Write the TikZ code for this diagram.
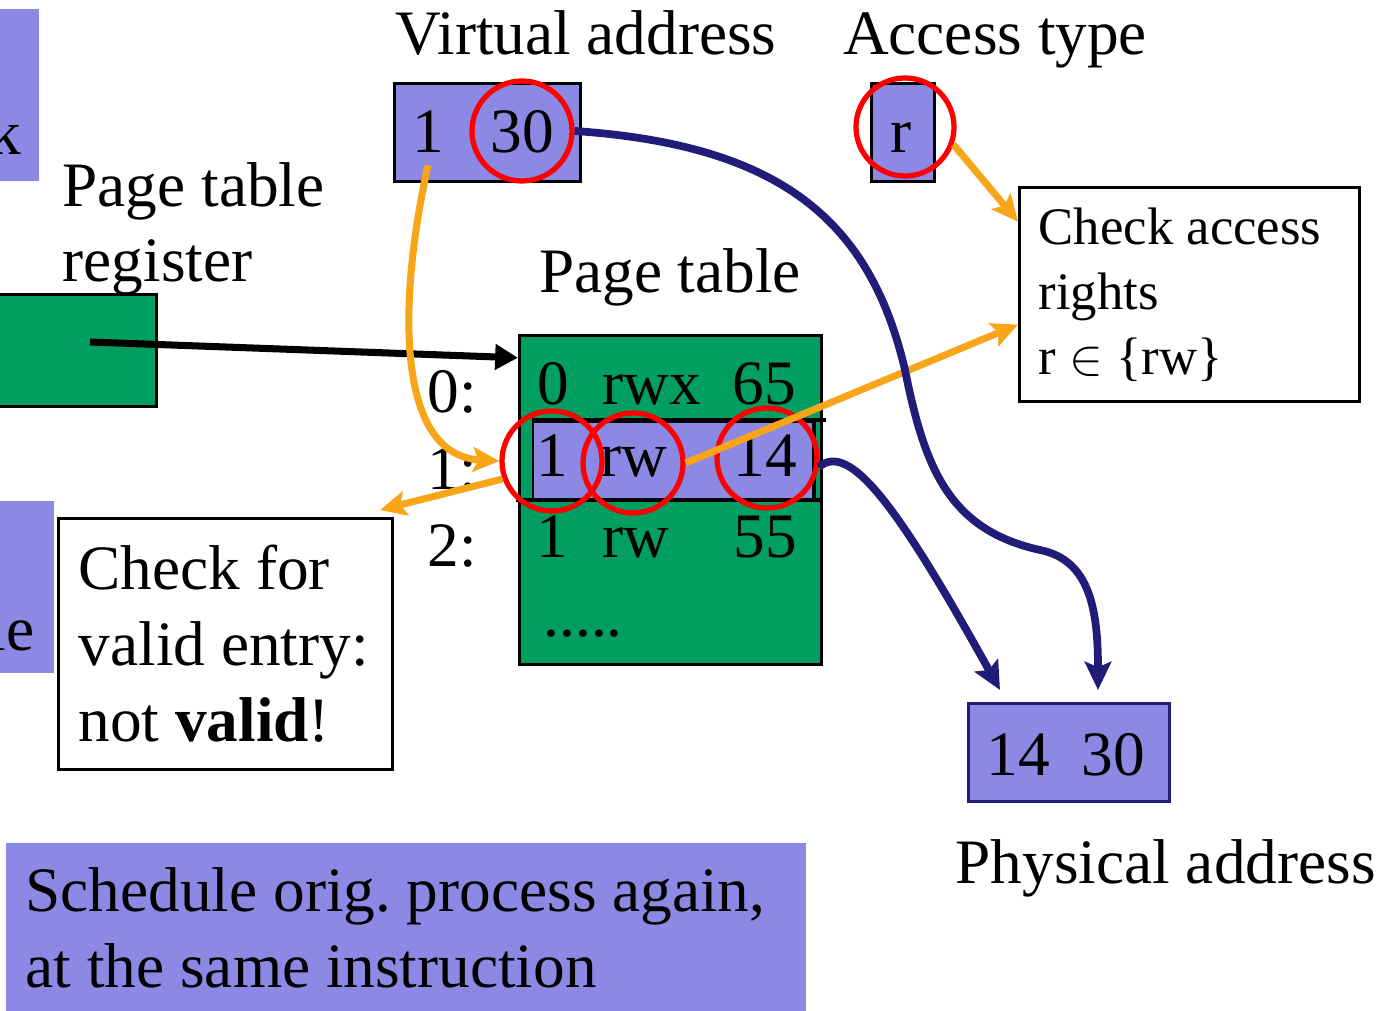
\documentclass[tikz,border=0pt]{standalone}
\usepackage{fontspec}
\setmainfont{Liberation Serif}
\usetikzlibrary{arrows.meta,positioning}
\definecolor{vpurple}{RGB}{139,137,227}
\definecolor{ptgreen}{RGB}{0,158,96}
\definecolor{aorange}{RGB}{249,165,26}
\definecolor{navy}{RGB}{32,28,120}
\frenchspacing

\begin{document}
\begin{tikzpicture}[
    font=\fontsize{18}{21.6}\selectfont,
    pbox/.style={rectangle, draw, fill=vpurple, inner sep=0pt, line width=0.8pt},
    gbox/.style={rectangle, draw, fill=ptgreen, inner sep=0pt, line width=0.8pt},
    infobox/.style={rectangle, draw, fill=white, inner sep=0pt, line width=0.8pt},
    infotext/.style={anchor=west, align=left, inner sep=0pt},
    hit/.style={circle, draw=red, line width=1.5pt, minimum size=1cm, inner sep=0pt},
    oarrow/.style={-{Stealth[length=7.5pt,width=7pt,inset=1.5pt]}, aorange, line width=2pt},
    narrow/.style={-{Stealth[length=8pt,width=7.5pt,inset=1.5pt]}, navy, line width=2.2pt},
    parrow/.style={-{Triangle[length=6.5pt,width=7pt]}, line width=2pt}
]
\useasboundingbox (0,0) rectangle (13.89,-10.11);
\clip (0,0) rectangle (13.89,-10.11);

% Boxes cut off at the left edge
\node[pbox, draw=none, minimum width=1.0cm, minimum height=1.72cm, anchor=north east] (kbox) at (0.40,-0.08) {};
\node[anchor=base east, inner sep=0pt] (ktxt) at (0.22,-1.55) {k};
\node[pbox, draw=none, minimum width=1.0cm, minimum height=1.72cm, anchor=north east] (lebox) at (0.55,-5.00) {};
\node[anchor=base east, inner sep=0pt] (letxt) at (0.35,-6.50) {le};

% Virtual address
\node[anchor=base] (valbl) at (5.86,-0.55) {Virtual address};
\node[pbox, minimum width=1.86cm, minimum height=0.98cm, anchor=north west] (vaddr) at (3.93,-0.82) {};
\node[anchor=base] (v1) at (4.28,-1.53) {1};
\node[anchor=base] (v30) at (5.22,-1.53) {30};

% Access type
\node[anchor=base] (atlbl) at (9.95,-0.55) {Access type};
\node[pbox, minimum width=0.63cm, minimum height=0.98cm, anchor=north west] (abox) at (8.70,-0.82) {};
\node[anchor=base] (ar) at (9.01,-1.53) {r};

% Check access rights
\node[infobox, minimum width=3.40cm, minimum height=2.14cm, anchor=north west] (acc) at (10.18,-1.86) {};
\node[infotext, font=\fontsize{15}{18.5}\selectfont] (acctxt) at ([xshift=0.2cm]acc.west)
     {Check access\\rights\\r $\in$ \{rw\}};

% Page table register
\node[anchor=base west, align=left, inner sep=0pt] (reglbl) at (0.62,-2.82) {Page table\\register};
\node[gbox, minimum width=2.0cm, minimum height=1.12cm, anchor=north east] (reg) at (1.58,-2.93) {};
\coordinate (regptr) at (0.90,-3.42);

% Page table
\node[anchor=base] (ptlbl) at (6.70,-2.93) {Page table};
\node[gbox, minimum width=3.02cm, minimum height=3.29cm, anchor=north west] (pt) at (5.18,-3.34) {};
\node[pbox, line width=0.6pt, minimum width=2.80cm, minimum height=0.79cm, anchor=north west] (row1) at (5.32,-4.21) {};
\draw[line width=1.2pt] (5.32,-4.20) -- (8.26,-4.20);
\draw[line width=1.2pt] (5.16,-5.00) -- (8.20,-5.00);
\draw[line width=1.2pt] (row1.north east) -- (row1.south east);

\node[anchor=base] (l0) at (4.52,-4.13) {0:};
\node[anchor=base] (l1) at (4.52,-4.90) {1:};
\node[anchor=base] (l2) at (4.52,-5.67) {2:};

\node[anchor=base] (e0v) at (5.53,-4.05) {0};
\node[anchor=base west, inner sep=0pt] (e0r) at (6.02,-4.05) {rwx};
\node[anchor=base] (e0f) at (7.64,-4.05) {65};
\node[anchor=base] (e1v) at (5.52,-4.77) {1};
\node[anchor=base west, inner sep=0pt] (e1r) at (6.00,-4.77) {rw};
\node[anchor=base] (e1f) at (7.65,-4.77) {14};
\node[anchor=base] (e2v) at (5.52,-5.58) {1};
\node[anchor=base west, inner sep=0pt] (e2r) at (6.02,-5.58) {rw};
\node[anchor=base] (e2f) at (7.65,-5.58) {55};
\node[anchor=base west, inner sep=0pt] (edots) at (5.43,-6.36) {.....};

% Check for valid entry
\node[infobox, minimum width=3.34cm, minimum height=2.51cm, anchor=north west] (valid) at (0.57,-5.17) {};
\node[infotext] (validtxt) at ([xshift=0.21cm]valid.west) {Check for\\valid entry:\\not \textbf{valid}!};
\coordinate (vtip) at (3.80,-5.10);

% Physical address
\node[pbox, draw=navy, minimum width=2.01cm, minimum height=0.98cm, anchor=north west] (phys) at (9.67,-7.02) {};
\node[anchor=base] (p14txt) at (10.18,-7.75) {14};
\node[anchor=base] (p30txt) at (11.13,-7.75) {30};
\node[anchor=base west, inner sep=0pt] (physlbl) at (9.55,-8.83) {Physical address};
\coordinate (p14) at (10.00,-6.90);
\coordinate (p30) at (10.98,-6.90);

% Schedule again
\node[pbox, draw=none, minimum width=8.0cm, minimum height=1.68cm, anchor=north west] (sched) at (0.05,-8.42) {};
\node[infotext] (schedtxt) at ([xshift=0.20cm]sched.west) {Schedule orig. process again,\\at the same instruction};

% Red marks
\node[hit] (c30) at (5.22,-1.31) {};
\node[hit, minimum size=0.98cm] (cr) at (9.05,-1.27) {};
\node[hit] (c1) at (5.52,-4.61) {};
\node[hit] (crw) at (6.33,-4.63) {};
\node[hit] (c14) at (7.67,-4.58) {};

% Pointer from register
\draw[parrow] (regptr) -- (pt.137);

% Orange checks
\draw[oarrow] (v1.south) .. controls (3.98,-3.00) and (3.95,-4.55) .. (c1.west);
\draw[oarrow] (c1.200) -- (vtip);
\draw[oarrow] (crw.east) -- (acc.190);
\draw[oarrow] (cr.340) -- (acc.157);

% Navy translation
\draw[narrow] (c30.east) .. controls (7.80,-1.45) and (8.70,-2.20) .. (9.05,-3.70)
    .. controls (9.25,-4.70) and (9.50,-5.30) .. (10.40,-5.50)
    .. controls (10.90,-5.60) and (10.98,-6.10) .. (p30);
\draw[narrow] (c14.350) .. controls (8.50,-4.40) and (9.00,-5.10) .. (p14);

\end{tikzpicture}
\end{document}
